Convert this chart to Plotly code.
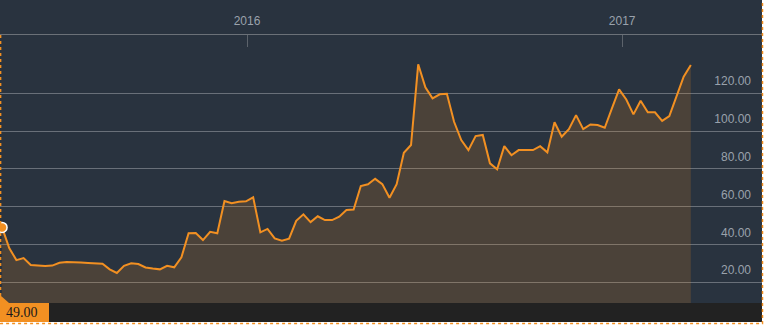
import pandas as pd
import plotly.graph_objects as go

start_date = "2015-05-07"
n_weeks = 97
values = [49, 38.1, 31.7, 32.8, 29.1, 28.8, 28.6, 28.8, 30.3, 30.7,
          30.7, 30.4, 30.2, 30.0, 29.8, 26.8, 24.9, 28.7, 30.0, 29.6,
          27.8, 27.2, 26.8, 28.7, 27.9, 33.2, 45.9, 46.0, 42.3, 46.7,
          45.9, 63.0, 61.8, 62.6, 62.8, 64.9, 46.4, 48.2, 43.2, 42.0,
          43.0, 52.5, 55.9, 51.8, 54.9, 52.9, 52.9, 54.7, 58.2, 58.5,
          70.9, 71.8, 74.7, 71.9, 64.7, 71.9, 88.5, 92.6, 135.3, 123.1,
          117.3, 119.4, 119.7, 104.9, 95.2, 89.9, 97.3, 97.9, 82.9, 79.7,
          92.0, 87.2, 89.9, 89.9, 89.9, 92.0, 88.7, 104.6, 97.0, 101.0,
          108.4, 101.0, 103.5, 103.2, 101.7, 112.0, 122.0, 116.7, 108.8, 116.0,
          109.9, 109.9, 105.4, 107.9, 118.1, 128.7, 134.9]
dates = pd.date_range(start_date, periods=n_weeks, freq="7D")

x_tick_vals = ["2016-01-01", "2017-01-01"]
x_tick_text = ["2016", "2017"]
y_tick_vals = [20, 40, 60, 80, 100, 120]
y_tick_text = ["20.00", "40.00", "60.00", "80.00", "100.00", "120.00"]

BG = "#29333f"
ORANGE = "#f29022"
LABEL = "#9aa2ac"

fig = go.Figure()
fig.add_trace(go.Scatter(
    x=dates, y=values, mode="lines",
    line=dict(color=ORANGE, width=2),
    fill="tozeroy", fillcolor="rgba(242,140,30,0.17)",
    hoverinfo="skip",
))
fig.add_trace(go.Scatter(
    x=[dates[0]], y=[values[0]], mode="markers",
    marker=dict(color=ORANGE, size=10, line=dict(color="white", width=1.5)),
    cliponaxis=False, hoverinfo="skip",
))

def py(pix):
    return (303 - pix) / 268.0

shapes = [
    dict(type="rect", xref="paper", yref="paper", x0=0, x1=1, y0=py(322), y1=0,
         fillcolor="#222222", line=dict(width=0), layer="above"),
    dict(type="rect", xref="paper", yref="paper", x0=0, x1=49 / 762, y0=py(322), y1=0,
         fillcolor=ORANGE, line=dict(width=0), layer="above"),
    dict(type="path", xref="paper", yref="paper",
         path=f"M 0 {py(295)} L {9/762} 0 L 0 0 Z",
         fillcolor=ORANGE, line=dict(width=0), layer="above"),
    dict(type="rect", xref="paper", yref="paper", x0=1, x1=1.01, y0=py(326), y1=py(-1),
         fillcolor="white", line=dict(width=0), layer="above"),
    dict(type="rect", xref="paper", yref="paper", x0=0, x1=1.01, y0=py(326), y1=py(322),
         fillcolor="white", line=dict(width=0), layer="above"),
    dict(type="path", xref="paper", yref="paper",
         path=f"M {0.6/762} {py(35)} L {0.6/762} {py(323.5)} L {762.5/762} {py(323.5)} L {762.5/762} {py(0)}",
         line=dict(color=ORANGE, width=1.5, dash="dot"), layer="above"),
]

fig.update_layout(
    width=766, height=325,
    margin=dict(l=0, r=4, t=35, b=22, pad=0),
    paper_bgcolor=BG, plot_bgcolor=BG,
    showlegend=False,
    shapes=shapes,
    annotations=[dict(
        xref="paper", yref="paper", x=22 / 762, y=py(312.5),
        text=f"{values[0]:.2f}", showarrow=False,
        font=dict(family="Liberation Serif", size=14, color="#1a1a1a"),
        xanchor="center", yanchor="middle",
    )],
    xaxis=dict(
        type="date", side="top",
        range=["2015-05-05 00:00", "2017-05-17 10:00"],
        tickvals=x_tick_vals, ticktext=x_tick_text,
        ticks="inside", ticklen=12, tickwidth=1, tickcolor="#5c636b",
        showline=True, linecolor="#6b7178", linewidth=1,
        showgrid=False, zeroline=False,
        tickfont=dict(family="Liberation Sans", size=12, color=LABEL),
        ticklabelstandoff=4,
    ),
    yaxis=dict(
        range=[9, 150.8], side="right",
        tickvals=y_tick_vals, ticktext=y_tick_text,
        ticklabelposition="inside", ticks="",
        ticklabelshift=-12, ticklabelstandoff=8,
        showgrid=True, gridcolor="rgba(255,255,255,0.3)", gridwidth=1,
        zeroline=False, showline=False,
        tickfont=dict(family="Liberation Sans", size=12, color=LABEL),
    ),
)

fig.write_html("out.html")
